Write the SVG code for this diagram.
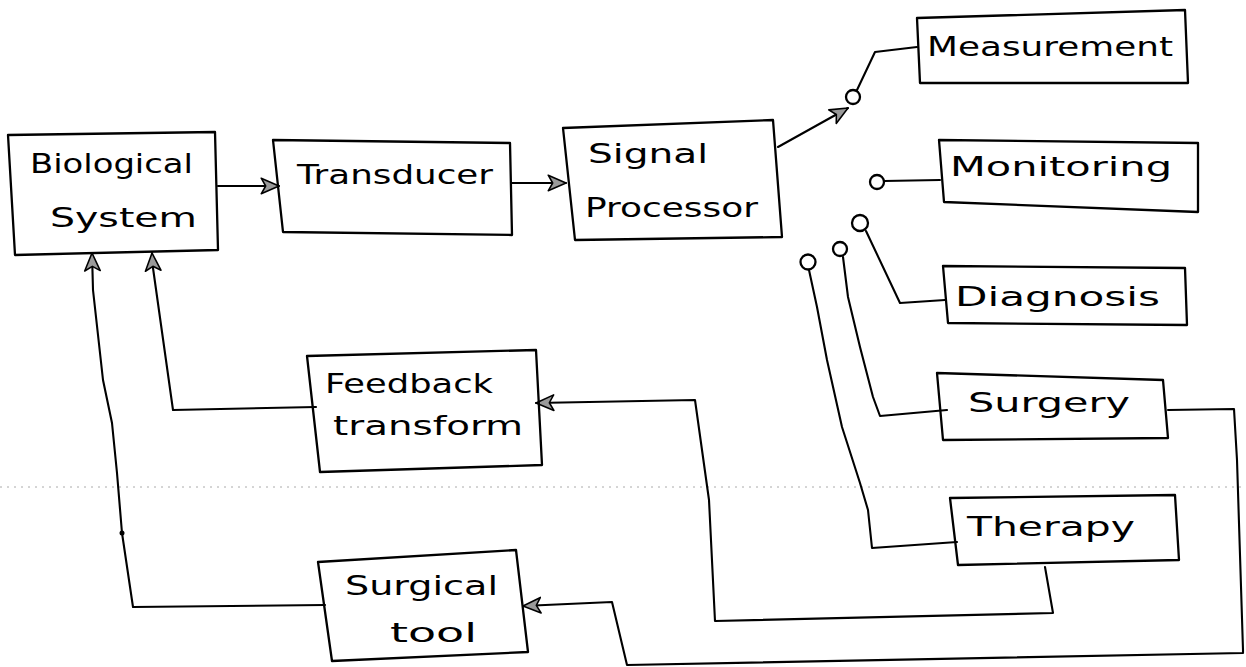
<svg xmlns="http://www.w3.org/2000/svg" width="1246" height="667" viewBox="0 0 1246 667">
<style>
.box{fill:none;stroke:#000;stroke-width:2.3;stroke-linejoin:round}
.c{fill:none;stroke:#000;stroke-width:2.1;stroke-linejoin:round;stroke-linecap:round}
.arr{marker-end:url(#ah)}
.pin{fill:#fff;stroke:#000;stroke-width:2.3}
.t{font-family:"DejaVu Sans","Liberation Sans",sans-serif;font-size:27px;fill:#000}
.scan{stroke:#aaa;stroke-width:1;stroke-dasharray:2 5;fill:none}
</style>
<defs>
<marker id="ah" markerUnits="userSpaceOnUse" markerWidth="20" markerHeight="20" viewBox="0 0 18 16" refX="17" refY="8" orient="auto">
<path d="M1,1 L17,8 L1,15 L5,8 z" fill="#9a9a9a" stroke="#000" stroke-width="1.4" stroke-linejoin="round"/>
</marker>
</defs>
<rect width="1246" height="667" fill="#fff"/>
<line class="scan" x1="0" y1="487" x2="1246" y2="487"/>

<g id="connectors">
<path class="c arr" d="M218,186 L279,186"/>
<path class="c arr" d="M512,183 L566,183"/>
<path class="c arr" d="M778,147 L848,108"/>
<path class="c" d="M857,90 L875,52 L917,47"/>
<path class="c" d="M884,181 L940,180"/>
<path class="c" d="M866,231 L900,303 L945,300"/>
<path class="c" d="M843,257 L848,297 L860,347 L873,397 L880,416 L947,410"/>
<path class="c" d="M809,270 L817,307 L827,360 L842,427 L860,483 L868,510 L872,548 L957,542"/>
<path class="c arr" d="M1168,410 L1234,409 L1237,460 L1243,650 L1243,653 L627,665 L612,602 L523,606"/>
<path class="c arr" d="M1045,567 L1053,613 L715,621 L709,500 L695,400 L536,403"/>
<path class="c arr" d="M316,407 L173,410 L153,268 L152,253"/>
<path class="c arr" d="M325,605 L133,607 L122,533 L117,473 L112,423 L103,380 L93,290 L92,253"/>
<circle cx="122" cy="533" r="2.5" fill="#000"/>
<circle class="pin" cx="853" cy="97" r="7"/>
<circle class="pin" cx="877" cy="182" r="7"/>
<circle class="pin" cx="860" cy="223" r="8"/>
<circle class="pin" cx="840" cy="249" r="7"/>
<circle class="pin" cx="808" cy="262" r="7.5"/>
</g>

<g id="biological-system">
<path class="box" d="M8,135 L215,132 L218,250 L15,255 Z"/>
<text class="t" x="30" y="173" font-size="30" textLength="163" lengthAdjust="spacingAndGlyphs">Biological</text>
<text class="t" x="50" y="227" font-size="29" textLength="147" lengthAdjust="spacingAndGlyphs">System</text>
</g>
<g id="transducer">
<path class="box" d="M273,140 L510,143 L512,235 L283,232 Z"/>
<text class="t" x="297" y="184" font-size="25" textLength="196" lengthAdjust="spacingAndGlyphs">Transducer</text>
</g>
<g id="signal-processor">
<path class="box" d="M563,128 L773,120 L782,237 L575,240 Z"/>
<text class="t" x="588" y="163" textLength="120" lengthAdjust="spacingAndGlyphs">Signal</text>
<text class="t" x="585" y="217" textLength="173" lengthAdjust="spacingAndGlyphs">Processor</text>
</g>
<g id="measurement">
<path class="box" d="M917,18 L1185,10 L1188,83 L920,83 Z"/>
<text class="t" x="927" y="56" textLength="246" lengthAdjust="spacingAndGlyphs">Measurement</text>
</g>
<g id="monitoring">
<path class="box" d="M939,140 L1198,143 L1198,212 L944,202 Z"/>
<text class="t" x="950" y="176" font-size="25" textLength="222" lengthAdjust="spacingAndGlyphs">Monitoring</text>
</g>
<g id="diagnosis">
<path class="box" d="M943,266 L1185,268 L1187,325 L948,323 Z"/>
<text class="t" x="955" y="306" font-size="25" textLength="205" lengthAdjust="spacingAndGlyphs">Diagnosis</text>
</g>
<g id="surgery">
<path class="box" d="M937,373 L1163,380 L1168,438 L943,440 Z"/>
<text class="t" x="968" y="412" font-size="26" textLength="162" lengthAdjust="spacingAndGlyphs">Surgery</text>
</g>
<g id="therapy">
<path class="box" d="M950,498 L1175,495 L1179,560 L958,565 Z"/>
<text class="t" x="967" y="536" textLength="168" lengthAdjust="spacingAndGlyphs">Therapy</text>
</g>
<g id="feedback-transform">
<path class="box" d="M307,356 L536,350 L542,465 L320,472 Z"/>
<text class="t" x="325" y="393" textLength="168" lengthAdjust="spacingAndGlyphs">Feedback</text>
<text class="t" x="333" y="435" textLength="190" lengthAdjust="spacingAndGlyphs">transform</text>
</g>
<g id="surgical-tool">
<path class="box" d="M318,562 L516,550 L528,652 L332,661 Z"/>
<text class="t" x="345" y="595" textLength="153" lengthAdjust="spacingAndGlyphs">Surgical</text>
<text class="t" x="390" y="642" textLength="87" lengthAdjust="spacingAndGlyphs">tool</text>
</g>
</svg>
